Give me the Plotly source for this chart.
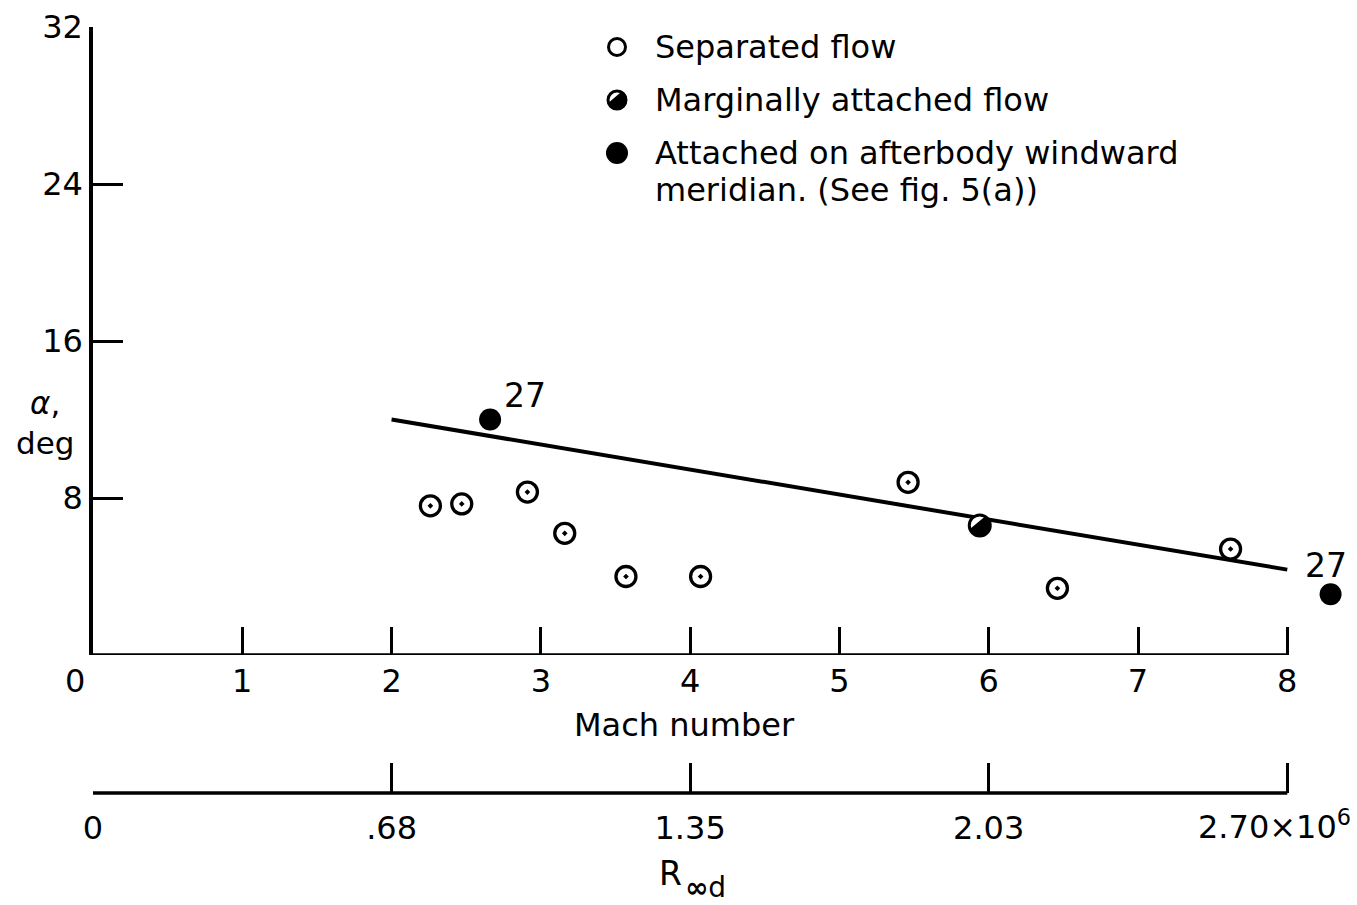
import numpy as np
import plotly.graph_objects as go

# Angle of attack for flow condition on the afterbody, vs. free-stream Mach number
sep_mach = [2.26, 2.47, 2.91, 3.16, 3.57, 4.07, 5.46, 6.46, 7.62]
sep_alpha = [7.6, 7.7, 8.3, 6.2, 4.0, 4.0, 8.8, 3.4, 5.4]

marg_mach = [5.94]
marg_alpha = [6.6]

att_mach = [2.66, 8.29]
att_alpha = [12.0, 3.1]
att_labels = ["27", "27"]

# Boundary line between separated and attached flow
fit_mach = [2.0, 8.0]
fit_alpha = [12.0, 4.35]

mach_ticks = [1, 2, 3, 4, 5, 6, 7, 8]
alpha_ticks = [8, 16, 24, 32]
re_tick_mach = [0, 2, 4, 6, 8]
re_tick_text = ["0", ".68", "1.35", "2.03", "2.70×10<sup>6</sup>"]

legend_labels = [
    "Separated flow",
    "Marginally attached flow",
    "Attached on afterbody windward\nmeridian. (See fig. 5(a))",
]

# ---- page geometry -------------------------------------------------------
W, H = 1357, 905
ML, MR, MT, MB = 93, 10, 27, 0
PW, PH = W - ML - MR, H - MT - MB
FONT = "DejaVu Sans"
INK = "black"


def px_x(px):
    return (px - ML) / PW


def px_y(py):
    return (H - MB - py) / PH


def half_disc_path(r, a_start=70, a_end=-170, n=40):
    """Lower-right segment of a disc (pixel offsets, y up), closed by a chord."""
    ang = np.radians(np.linspace(a_start, a_end, n))
    pts = [f"{r*np.cos(a):.2f},{r*np.sin(a):.2f}" for a in ang]
    return "M" + "L".join(pts) + "Z"


fig = go.Figure()

fig.add_trace(go.Scatter(
    x=fit_mach, y=fit_alpha, mode="lines",
    line=dict(color=INK, width=4), showlegend=False, hoverinfo="skip",
))

fig.add_trace(go.Scatter(
    x=sep_mach, y=sep_alpha, mode="markers", name="Separated flow",
    marker=dict(symbol="circle-open-dot", size=20, color=INK,
                line=dict(color=INK, width=3.3)),
    showlegend=False, cliponaxis=False,
))

fig.add_trace(go.Scatter(
    x=marg_mach, y=marg_alpha, mode="markers", name="Marginally attached flow",
    marker=dict(symbol="circle", size=21, color="white",
                line=dict(color=INK, width=3)),
    showlegend=False, cliponaxis=False,
))

fig.add_trace(go.Scatter(
    x=att_mach, y=att_alpha, mode="markers", name="Attached flow",
    marker=dict(symbol="circle", size=22, color=INK, line=dict(width=0)),
    showlegend=False, cliponaxis=False,
))

shapes = []
annotations = []

# Filled part of the marginally attached symbols
for mx, my in zip(marg_mach, marg_alpha):
    shapes.append(dict(
        type="path", xref="x", yref="y",
        xsizemode="pixel", ysizemode="pixel", xanchor=mx, yanchor=my,
        path=half_disc_path(10.5, 60, -160), fillcolor=INK, line=dict(width=0),
    ))

# Run-number labels beside attached-flow points
label_shift = [(35, 24), (-5, 29)]
for mx, my, lab, (dx, dy) in zip(att_mach, att_alpha, att_labels, label_shift):
    annotations.append(dict(
        x=mx, y=my, xref="x", yref="y", text=lab, showarrow=False,
        xanchor="center", yanchor="middle",
        xshift=dx, yshift=dy, font=dict(family=FONT, size=33, color=INK),
    ))

# Axis baselines that stop at Mach 8
shapes.append(dict(type="line", xref="x", yref="y", x0=0, x1=8, y0=0, y1=0,
                   line=dict(color=INK, width=3.5)))
shapes.append(dict(type="line", xref="x2", yref="y2 domain", x0=0, x1=8,
                   y0=0, y1=0, line=dict(color=INK, width=3.5)))

# Legend drawn as symbols + text
leg_x_sym, leg_x_txt = 617, 653
leg_rows = [47, 100, 153]
line_gap = 37
sym_kinds = ["open", "half", "filled"]
for row_y, kind, label in zip(leg_rows, sym_kinds, legend_labels):
    sx, sy = px_x(leg_x_sym), px_y(row_y)
    if kind == "open":
        shapes.append(dict(type="circle", xref="paper", yref="paper",
                           xsizemode="pixel", ysizemode="pixel",
                           xanchor=sx, yanchor=sy, x0=-8.5, x1=8.5, y0=-8.5, y1=8.5,
                           line=dict(color=INK, width=3)))
    elif kind == "half":
        shapes.append(dict(type="circle", xref="paper", yref="paper",
                           xsizemode="pixel", ysizemode="pixel",
                           xanchor=sx, yanchor=sy, x0=-9, x1=9, y0=-9, y1=9,
                           line=dict(color=INK, width=3)))
        shapes.append(dict(type="path", xref="paper", yref="paper",
                           xsizemode="pixel", ysizemode="pixel",
                           xanchor=sx, yanchor=sy, path=half_disc_path(10, 60, -160),
                           fillcolor=INK, line=dict(width=0)))
    else:
        shapes.append(dict(type="circle", xref="paper", yref="paper",
                           xsizemode="pixel", ysizemode="pixel",
                           xanchor=sx, yanchor=sy, x0=-11, x1=11, y0=-11, y1=11,
                           fillcolor=INK, line=dict(width=0)))
    for i, part in enumerate(label.split("\n")):
        annotations.append(dict(
            x=px_x(leg_x_txt), y=px_y(row_y + i * line_gap), xref="paper", yref="paper",
            text=part, showarrow=False, xanchor="left", yanchor="middle",
            font=dict(family=FONT, size=32, color=INK),
        ))

axis_font = dict(family=FONT, size=32, color=INK)

# Axis titles, the offset zero label and the end label of the Reynolds scale
annotations += [
    dict(x=0, y=0, xref="x", yref="y", text="0", showarrow=False,
         xanchor="center", yanchor="middle",
         xshift=-18, yshift=-26, font=axis_font),
    dict(x=re_tick_mach[-1], y=px_y(828), xref="x2", yref="paper",
         text=re_tick_text[-1], showarrow=False, xanchor="right", yanchor="middle",
         xshift=66, yshift=3, font=axis_font),
    dict(x=3.96, y=px_y(725), xref="x", yref="paper", text="Mach number",
         showarrow=False, xanchor="center", yanchor="middle", font=axis_font),
    dict(x=3.87, y=px_y(873), xref="x", yref="paper", text="R",
         showarrow=False, xanchor="center", yanchor="middle",
         font=dict(family=FONT, size=33, color=INK)),
    dict(x=3.95, y=px_y(887), xref="x", yref="paper", text="<b>∞</b>d",
         showarrow=False, xanchor="left", yanchor="middle",
         font=dict(family=FONT, size=28, color=INK)),
    dict(x=px_x(45), y=px_y(423), xref="paper", yref="paper",
         text="<i>α</i>,<br>deg", showarrow=False, xanchor="center", yanchor="middle",
         font=dict(family=FONT, size=31, color=INK)),
]

fig.update_layout(
    width=W, height=H,
    margin=dict(l=ML, r=MR, t=MT, b=MB, autoexpand=False),
    paper_bgcolor="white", plot_bgcolor="white",
    showlegend=False,
    shapes=shapes, annotations=annotations,
    xaxis=dict(
        range=[0, 8.4], anchor="y", tickmode="array", tickvals=mach_ticks,
        ticks="inside", ticklen=28, tickwidth=3, tickcolor=INK,
        showline=False, showgrid=False, zeroline=False, automargin=False,
        tickfont=axis_font, ticklabelstandoff=4,
    ),
    yaxis=dict(
        range=[0, 32], domain=[px_y(655), 1], tickmode="array", tickvals=alpha_ticks,
        ticks="inside", ticklen=30, tickwidth=3, tickcolor=INK,
        showline=True, linewidth=3.5, linecolor=INK, automargin=False,
        showgrid=False, zeroline=False, tickfont=axis_font, ticklabelstandoff=0,
    ),
    xaxis2=dict(
        range=[0, 8.4], anchor="y2", tickmode="array", tickvals=re_tick_mach,
        ticktext=re_tick_text[:-1] + [""], ticks="inside", ticklen=30, tickwidth=3,
        tickcolor=INK, showline=False, showgrid=False, zeroline=False,
        automargin=False, tickfont=axis_font, ticklabelstandoff=13,
    ),
    yaxis2=dict(
        domain=[px_y(793), px_y(793) + 0.01], range=[0, 1], automargin=False,
        showticklabels=False, showline=False, showgrid=False, zeroline=False,
        ticks="",
    ),
)

fig.write_html("out.html")
